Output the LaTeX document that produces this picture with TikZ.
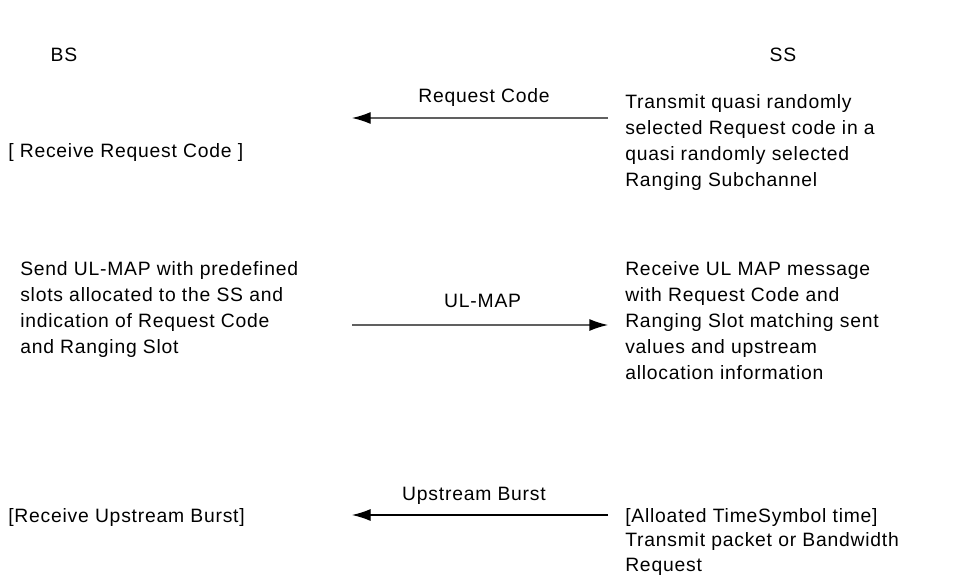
\documentclass[tikz,border=0pt]{standalone}
\usepackage{fontspec}
\setmainfont[LetterSpace=4]{Liberation Sans}
\usetikzlibrary{arrows.meta}

\begin{document}
\begin{tikzpicture}[x=0.75pt, y=-0.75pt]
    \tikzstyle{every node}=[inner sep=0pt, font=\fontsize{14.5}{19.5}\selectfont, text=black]
    \tikzstyle{note}=[anchor=north west, align=left]
    \tikzstyle{msg}=[gray!75!black, line width=1pt, -{Latex[length=14pt, width=9pt, color=black]}]
    \tikzstyle{msglabel}=[midway, anchor=base]

    \useasboundingbox (0,0) rectangle (973,577);

    % the two stations
    \node (bs) at (64,55) {BS};
    \node (ss) at (783,55) {SS};

    % step 1: ranging request code
    \node[note] (sstx) at (625,94) {Transmit quasi randomly\\selected Request code in a\\quasi randomly selected\\Ranging Subchannel};
    \node[note] (bsrx) at (8,143) {[ Receive Request Code ]};
    \coordinate (rcfrom) at (608,118);
    \coordinate (rcto) at (352,118);
    \draw[msg] (rcfrom) -- (rcto) node[msglabel, yshift=11.25pt, xshift=3pt] (rclabel) {Request Code};

    % step 2: UL-MAP with allocation
    \node[note] (bsmap) at (20,261) {Send UL-MAP with predefined\\slots allocated to the SS and\\indication of Request Code\\and Ranging Slot};
    \node[note] (ssmap) at (625,261) {Receive UL MAP message\\with Request Code and\\Ranging Slot matching sent\\values and upstream\\allocation information};
    \coordinate (mapfrom) at (352,325);
    \coordinate (mapto) at (608,325);
    \draw[msg] (mapfrom) -- (mapto) node[msglabel, yshift=13.5pt, xshift=2pt] (maplabel) {UL-MAP};

    % step 3: upstream burst
    \node[note] (bsburst) at (8,508) {[Receive Upstream Burst]};
    \node[note, font=\fontsize{14.5}{18.5}\selectfont] (ssburst) at (625,508) {[Alloated TimeSymbol time]\\Transmit packet or Bandwidth\\Request};
    \coordinate (ubfrom) at (608,515);
    \coordinate (ubto) at (352,515);
    \tikzstyle{msg}=[black, line width=0.8pt, -{Latex[length=14pt, width=9pt]}]
    \draw[msg] (ubfrom) -- (ubto) node[msglabel, yshift=11.25pt, xshift=-4.5pt] (ublabel) {Upstream Burst};
\end{tikzpicture}
\end{document}
